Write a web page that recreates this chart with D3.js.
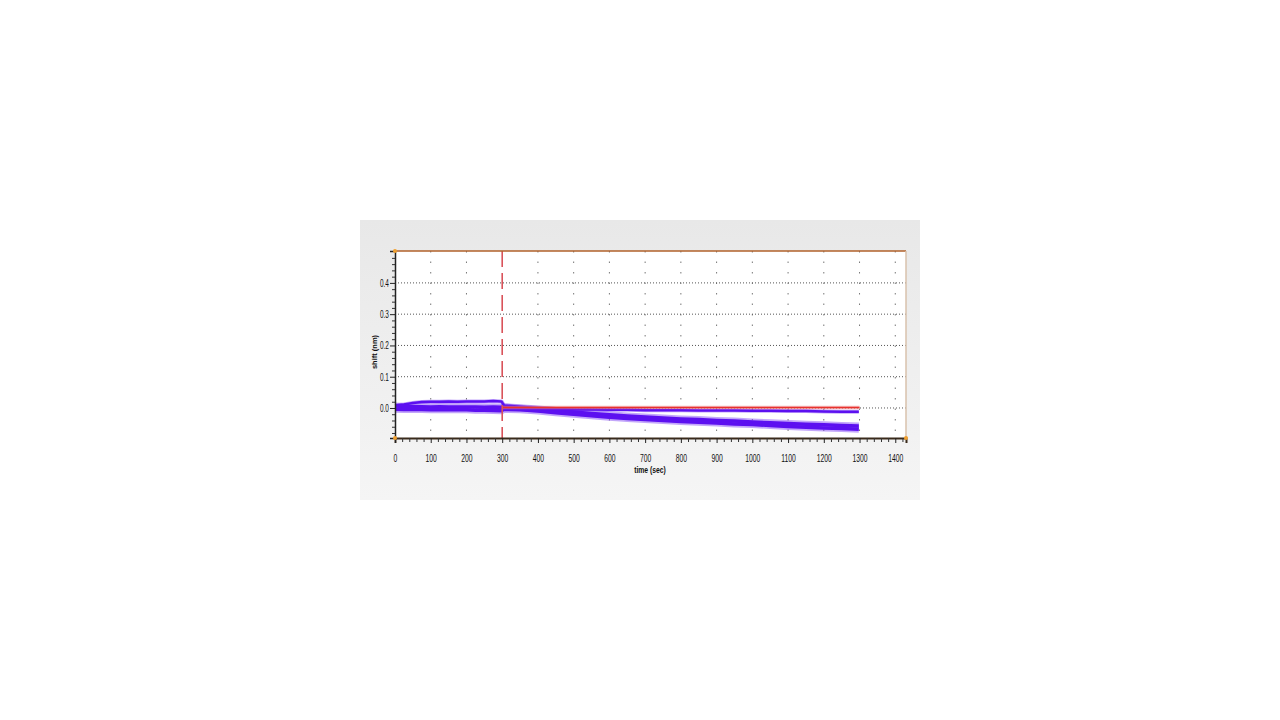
<!DOCTYPE html>
<html>
<head>
<meta charset="utf-8">
<script src="https://cdn.jsdelivr.net/npm/d3@7"></script>
<style>
  body { margin: 0; background: #fff; }
  svg { display: block; }
</style>
</head>
<body>
<svg id="chart" width="1280" height="720"></svg>
<script>
// time samples (sec) shared by the traces
const times = [0, 25, 50, 75, 100, 125, 150, 175, 200, 225, 250, 275, 298,
  305, 350, 400, 450, 500, 550, 600, 650, 700, 750, 800, 850, 900, 950,
  1000, 1050, 1100, 1150, 1200, 1250, 1298];

// shift (nm)
const traceUpper = [0.008, 0.011, 0.016, 0.019, 0.020, 0.020, 0.021, 0.020, 0.021, 0.021, 0.021, 0.022, 0.021,
  0.008, 0.004, 0.000, -0.003, -0.005, -0.005, -0.006, -0.006, -0.007, -0.007, -0.007, -0.008, -0.008, -0.008,
  -0.009, -0.009, -0.010, -0.010, -0.011, -0.012, -0.012];
const traceMid = [0.006, 0.005, 0.004, 0.004, 0.003, 0.004, 0.003, 0.003, 0.003, 0.003, 0.002, 0.003, 0.002,
  0.004, 0.001, -0.003, -0.008, -0.013, -0.018, -0.022, -0.026, -0.029, -0.032, -0.035, -0.037, -0.040, -0.042,
  -0.045, -0.047, -0.050, -0.052, -0.054, -0.056, -0.058];
const traceLow = [-0.004, -0.005, -0.005, -0.005, -0.006, -0.005, -0.006, -0.006, -0.006, -0.007, -0.007, -0.008, -0.009,
  -0.004, -0.006, -0.010, -0.015, -0.020, -0.025, -0.030, -0.034, -0.037, -0.040, -0.043, -0.046, -0.048, -0.051,
  -0.053, -0.056, -0.059, -0.062, -0.064, -0.066, -0.068];

const traces = [traceUpper, traceMid, traceLow];
const traceWidths = [2.5, 3.5, 3.5];
const haloWidths = [1.5, 3.5, 3.5];

const xTicks = [0, 100, 200, 300, 400, 500, 600, 700, 800, 900, 1000, 1100, 1200, 1300, 1400];
const yTicks = [0.0, 0.1, 0.2, 0.3, 0.4];
const injectTime = 300;
const baselineRange = [300, 1300];

const svg = d3.select('#chart');

// panel background
const defs = svg.append('defs');
const grad = defs.append('linearGradient').attr('id', 'bg').attr('x1', 0).attr('y1', 0).attr('x2', 0).attr('y2', 1);
grad.append('stop').attr('offset', '0%').attr('stop-color', '#e8e8e8');
grad.append('stop').attr('offset', '100%').attr('stop-color', '#f5f5f5');
svg.append('rect').attr('x', 360).attr('y', 220).attr('width', 560).attr('height', 280).attr('fill', 'url(#bg)');

const plotL = 395, plotR = 906, plotT = 251, plotB = 438;
const x = d3.scaleLinear().domain([0, 1430]).range([plotL, plotR]);
const y = d3.scaleLinear().domain([-0.096, 0.502]).range([plotB, plotT]);

svg.append('rect').attr('x', plotL).attr('y', plotT).attr('width', plotR - plotL).attr('height', plotB - plotT).attr('fill', '#fff');

// grid
svg.append('g').selectAll('line').data(xTicks.filter(d => d > 0 && d !== injectTime)).join('line')
  .attr('x1', d => x(d)).attr('x2', d => x(d)).attr('y1', plotT).attr('y2', plotB)
  .attr('stroke', '#777').attr('stroke-width', 1).attr('stroke-dasharray', '1.5,9');
svg.append('g').selectAll('line').data(yTicks).join('line')
  .attr('x1', plotL).attr('x2', plotR).attr('y1', d => y(d)).attr('y2', d => y(d))
  .attr('stroke', '#555').attr('stroke-width', 1).attr('stroke-dasharray', '1,2');

// traces: soft halo for the noise band, then the core line
const line = d3.line().x((d, i) => x(times[i])).y(d => y(d));
const traceG = svg.append('g');
traceG.selectAll('path.halo').data(traces).join('path').attr('class', 'halo')
  .attr('d', d => line(d))
  .attr('fill', 'none').attr('stroke', '#7a3cf5').attr('stroke-width', (d, i) => traceWidths[i] + haloWidths[i])
  .attr('stroke-linejoin', 'round').attr('opacity', 0.45);
traceG.selectAll('path.core').data(traces).join('path').attr('class', 'core')
  .attr('d', d => line(d))
  .attr('fill', 'none').attr('stroke', '#5c10f0').attr('stroke-width', (d, i) => traceWidths[i])
  .attr('stroke-linejoin', 'round');

// baseline reference
svg.append('line')
  .attr('x1', x(baselineRange[0])).attr('x2', x(baselineRange[1]))
  .attr('y1', y(0) - 0.5).attr('y2', y(0) - 0.5)
  .attr('stroke', '#f08080').attr('stroke-width', 3.5).attr('opacity', 0.5);
svg.append('line')
  .attr('x1', x(baselineRange[0])).attr('x2', x(baselineRange[1]))
  .attr('y1', y(0) - 0.5).attr('y2', y(0) - 0.5)
  .attr('stroke', '#e8322e').attr('stroke-width', 1.5);

// injection marker
svg.append('line')
  .attr('x1', x(injectTime)).attr('x2', x(injectTime)).attr('y1', plotT).attr('y2', plotB)
  .attr('stroke', '#d9535a').attr('stroke-width', 1.6).attr('stroke-dasharray', '16,6');

// frame
svg.append('line').attr('x1', plotL).attr('x2', plotR).attr('y1', plotT).attr('y2', plotT)
  .attr('stroke', '#b0602a').attr('stroke-width', 1.5);
svg.append('line').attr('x1', plotR).attr('x2', plotR).attr('y1', plotT).attr('y2', plotB)
  .attr('stroke', '#d9c2ad').attr('stroke-width', 1.5);

// axes (labels squeezed to look like a narrow font)
const fontFam = '"Liberation Sans", Arial, sans-serif';
const xAxis = svg.append('g').attr('transform', `translate(0,${plotB})`)
  .call(d3.axisBottom(x).tickValues(xTicks).tickSize(5).tickPadding(9).tickFormat(d3.format('d')));
xAxis.select('.domain').attr('stroke', '#3a2a1a').attr('stroke-width', 2);
xAxis.selectAll('.tick line').attr('stroke', '#222');
xAxis.selectAll('.tick text').attr('font-size', 10).attr('fill', '#111').attr('font-family', fontFam)
  .attr('transform', 'scale(0.68,1.15)');
svg.append('g').attr('transform', `translate(0,${plotB})`)
  .call(d3.axisBottom(x).tickValues(d3.range(0, 1430, 20).filter(d => d % 100 !== 0)).tickSize(4).tickFormat(''))
  .call(g => g.select('.domain').remove())
  .selectAll('.tick line').attr('stroke', '#333');

const yAxis = svg.append('g').attr('transform', `translate(${plotL},0)`)
  .call(d3.axisLeft(y).tickValues(yTicks).tickSize(5).tickPadding(4).tickFormat(d3.format('.1f')));
yAxis.select('.domain').attr('stroke', '#222').attr('stroke-width', 1.5);
yAxis.selectAll('.tick line').attr('stroke', '#222');
yAxis.selectAll('.tick text').attr('font-size', 9.5).attr('fill', '#111').attr('font-family', fontFam)
  .attr('transform', 'scale(0.68,1.15)');
svg.append('g').attr('transform', `translate(${plotL},0)`)
  .call(d3.axisLeft(y).tickValues(d3.range(-0.08, 0.5, 0.02).filter(d => Math.abs(Math.round(d * 10) - d * 10) > 0.01)).tickSize(3).tickFormat(''))
  .call(g => g.select('.domain').remove())
  .selectAll('.tick line').attr('stroke', '#333');

// corner markers
[[plotL, plotT], [plotL, plotB], [plotR, plotB]].forEach(([cx, cy]) => {
  svg.append('circle').attr('cx', cx).attr('cy', cy).attr('r', 2).attr('fill', '#f0a030');
});

// axis titles
svg.append('text').attr('transform', 'translate(650,473) scale(0.8,1.1)').attr('text-anchor', 'middle')
  .attr('font-family', fontFam).attr('font-weight', 'bold').attr('font-size', 8.5).attr('fill', '#111')
  .text('time (sec)');
svg.append('text').attr('transform', 'translate(377,352) rotate(-90)').attr('text-anchor', 'middle')
  .attr('font-family', fontFam).attr('font-weight', 'bold').attr('font-size', 7.5).attr('fill', '#111')
  .text('shift (nm)');
</script>
</body>
</html>
